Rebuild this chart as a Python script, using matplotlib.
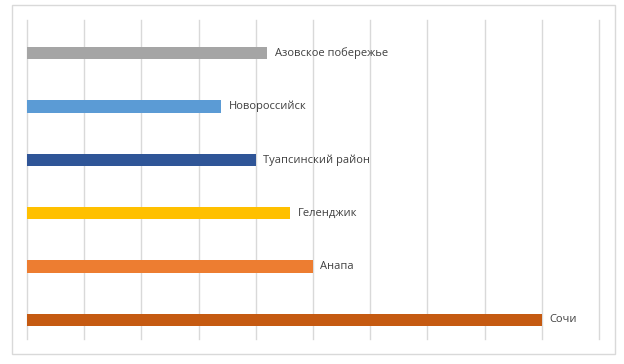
import matplotlib.pyplot as plt
from matplotlib.patches import Rectangle

# данные (сверху вниз на графике)
regioes = ['Азовское побережье', 'Новороссийск', 'Туапсинский район',
           'Геленджик', 'Анапа', 'Сочи']
valores = [4.2, 3.4, 4.0, 4.6, 5.0, 9.0]
cores = ['#A5A5A5', '#5B9BD5', '#2F5597', '#FFC000', '#ED7D31', '#C55A11']

fig = plt.figure(figsize=(6.24, 3.64), dpi=100)
fig.patch.set_facecolor('white')

# moldura externa cinza
fig.patches.append(Rectangle((12 / 624, 1 - 354 / 364), 603 / 624, 349 / 364,
                             transform=fig.transFigure, fill=False,
                             edgecolor='#D9D9D9', linewidth=1))

ax = fig.add_axes([27 / 624, 1 - 339 / 364, 572 / 624, 319 / 364])

n = len(regioes)
posicoes = [n - 1 - i for i in range(n)]
ax.barh(posicoes, valores, height=0.23, color=cores, zorder=3)

for p, v, nome in zip(posicoes, valores, regioes):
    ax.text(v + 0.13, p, nome, va='center', ha='left', fontsize=8,
            color='#404040', family='Open Sans')

ax.set_xlim(0, 10)
ax.set_ylim(-0.356, 5.62)
ax.set_xticks(range(0, 11))
ax.grid(axis='x', color='#D9D9D9', linewidth=1, zorder=0)
for gl in ax.get_xgridlines():
    gl.set_clip_on(False)
ax.tick_params(left=False, bottom=False, labelleft=False, labelbottom=False)
for s in ax.spines.values():
    s.set_visible(False)

plt.savefig('out.png', dpi=100)
